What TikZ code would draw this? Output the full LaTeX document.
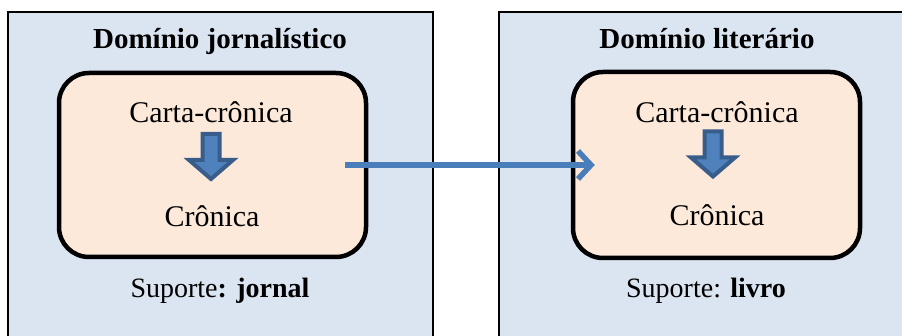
\documentclass[tikz,border=0pt]{standalone}
\usepackage{fontspec}
\setmainfont{Liberation Serif}
\usetikzlibrary{arrows.meta}
\definecolor{domainfill}{HTML}{DBE5F1}
\definecolor{genrefill}{HTML}{FDE9D9}
\definecolor{blockfill}{HTML}{4F81BD}
\definecolor{blockline}{HTML}{385D8A}
\definecolor{linkblue}{HTML}{4A7EBB}
\tikzset{
  domainbox/.style = {draw = black, line width = 2pt, fill = domainfill, inner sep = 0pt},
  genrebox/.style = {draw = black, line width = 4.5pt, fill = genrefill, rounded corners = 30pt, inner sep = 0pt},
  titletext/.style = {anchor = base, font = \fontsize{29}{34}\selectfont\bfseries},
  genretext/.style = {anchor = base, font = \fontsize{30}{36}\selectfont},
  supporttext/.style = {anchor = base, font = \fontsize{28}{33}\selectfont},
  downblock/.style = {draw = blockline, fill = blockfill, line width = 4pt, line join = miter},
  link/.style = {draw = linkblue, line width = 5.5pt, -{Straight Barb[length = 13pt, width = 28pt]}}
}
\begin{document}
\begin{tikzpicture}[x = 1pt, y = 1pt]
        \useasboundingbox (0,0) rectangle (902,336);
        % dominio jornalistico
        \node (jorn_dom)[domainbox, minimum width = 425pt, minimum height = 334pt] at (220.5,157) {};
        \node (jorn_title)[titletext] at (220,287) {Domínio jornalístico};
        \node (jorn_box)[genrebox, minimum width = 307pt, minimum height = 184pt] at (212.5,171) {};
        \node (jorn_carta)[genretext] at (211,213) {Carta-crônica};
        \coordinate (jorn_arrow) at (211,179);
        \draw[downblock] (jorn_arrow) ++(-8.5,23) -- ++(17,0) -- ++(0,-26) -- ++(13.5,0)
            -- ++(-22,-19) -- ++(-22,19) -- ++(13.5,0) -- cycle;
        \node (jorn_cronica)[genretext] at (212,109) {Crônica};
        \node (jorn_sup)[supporttext] at (220,38) {Suporte\textbf{: jornal}};
        % dominio literario
        \node (lit_dom)[domainbox, minimum width = 416pt, minimum height = 334pt] at (707,157) {};
        \node (lit_title)[titletext] at (707,287) {Domínio literário};
        \node (lit_box)[genrebox, minimum width = 287pt, minimum height = 186pt] at (716.5,171) {};
        \node (lit_carta)[genretext] at (717,213) {Carta-crônica};
        \coordinate (lit_arrow) at (713,181.5);
        \draw[downblock] (lit_arrow) ++(-8.5,23) -- ++(17,0) -- ++(0,-26) -- ++(13.5,0)
            -- ++(-22,-19) -- ++(-22,19) -- ++(13.5,0) -- cycle;
        \node (lit_cronica)[genretext] at (717,110) {Crônica};
        \node (lit_sup)[supporttext] at (706,38) {Suporte: \textbf{livro}};
        \path ([xshift = -23pt]jorn_box.east) edge[link] ([xshift = 24pt]lit_box.west);
    \end{tikzpicture}
\end{document}
